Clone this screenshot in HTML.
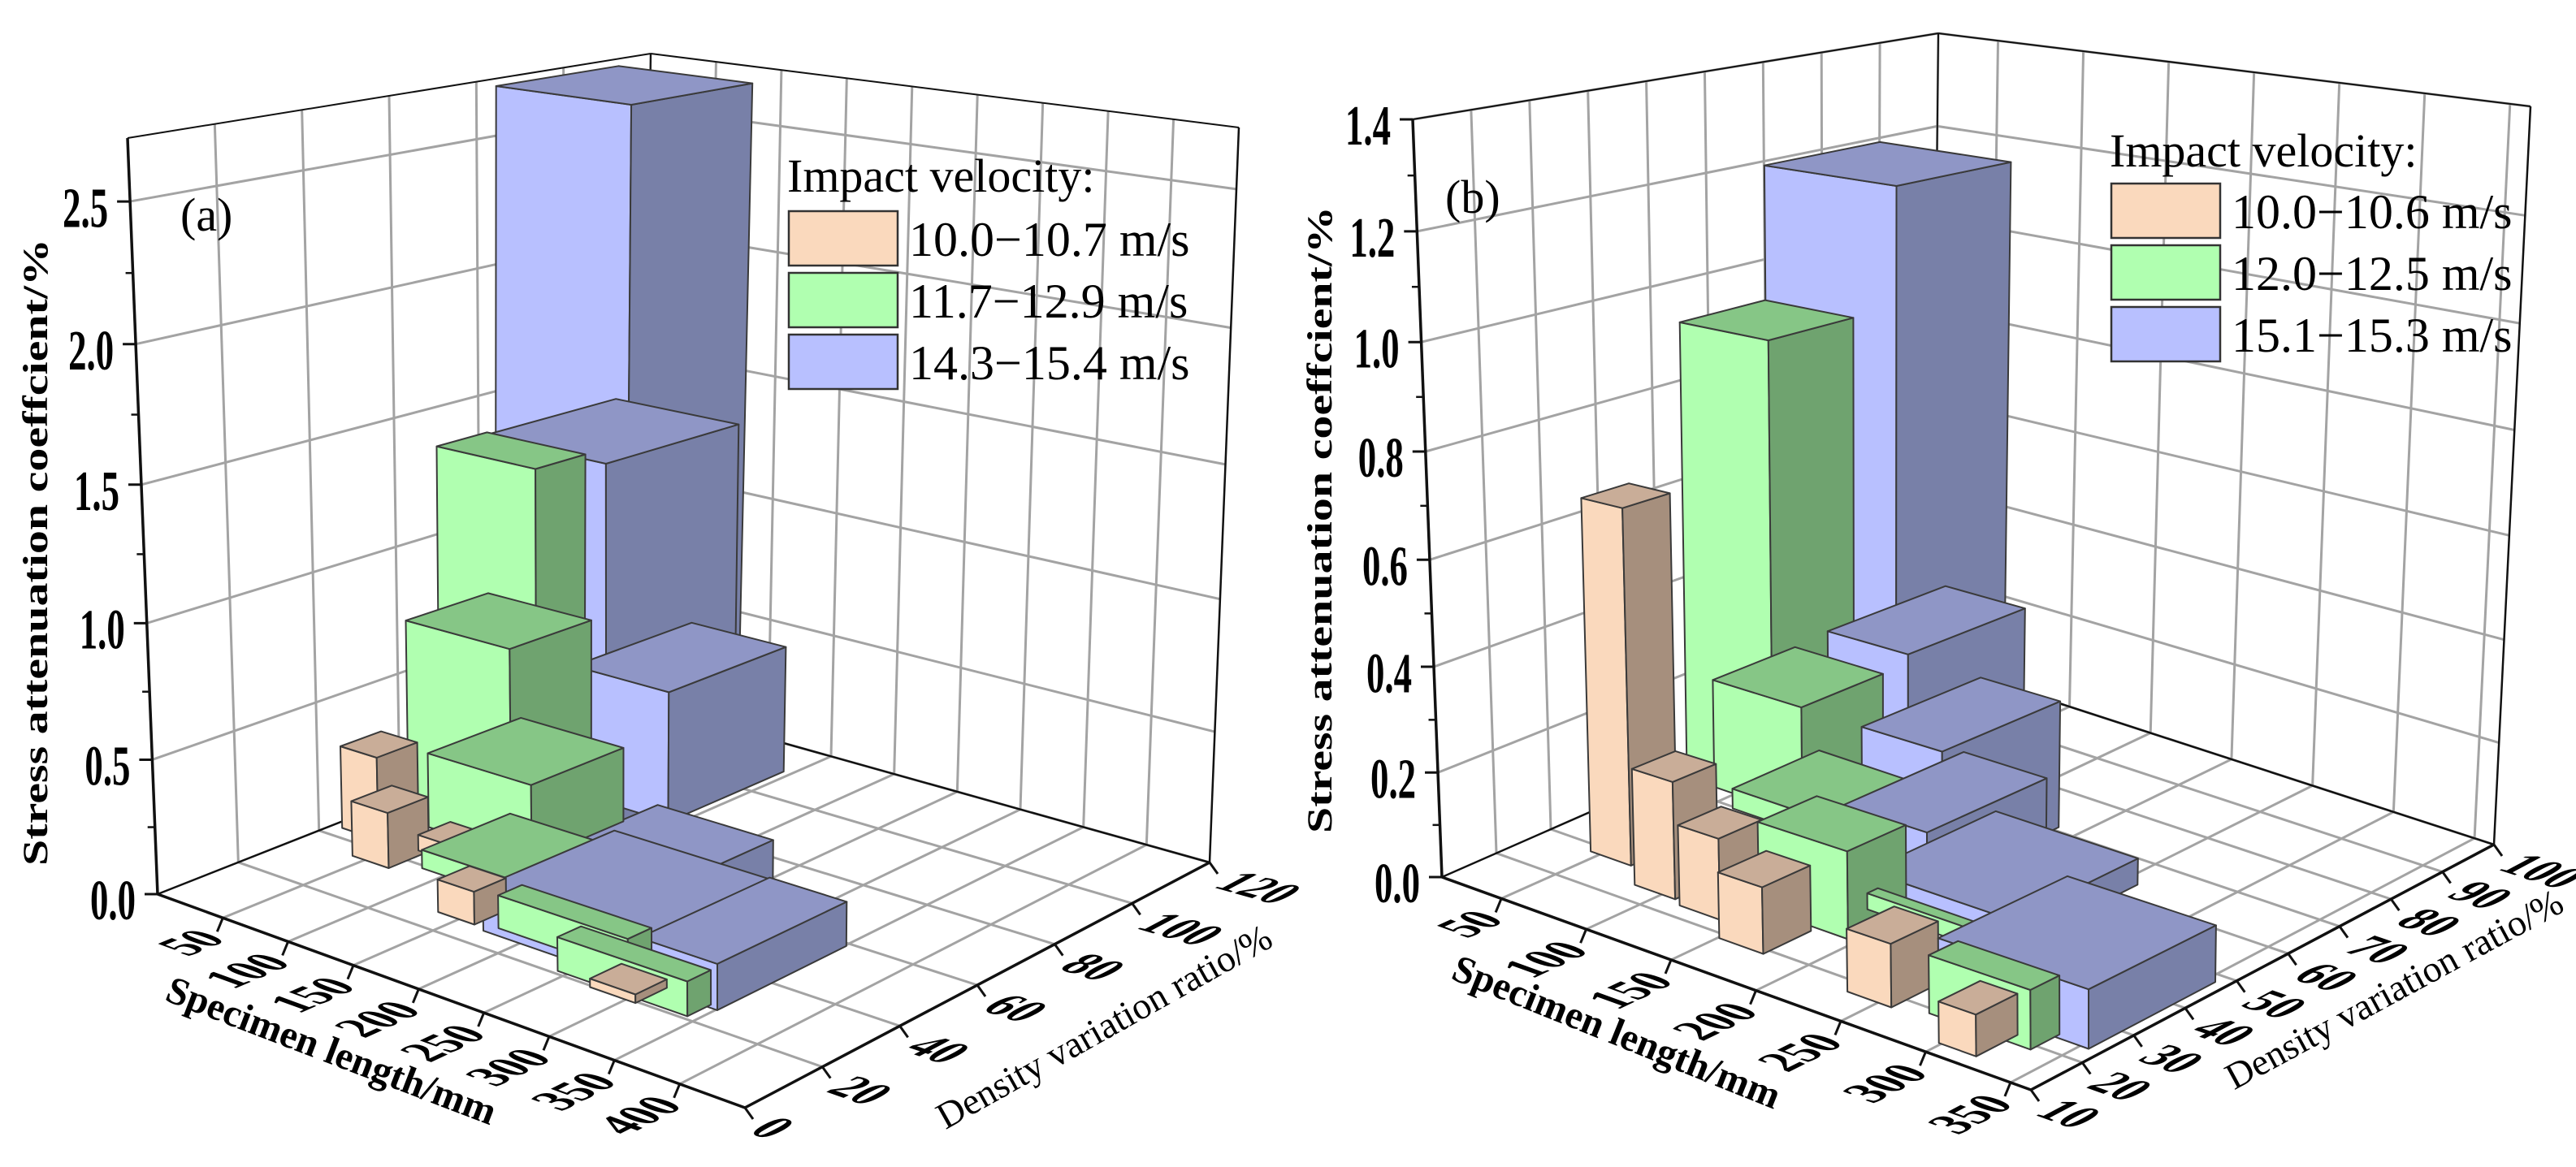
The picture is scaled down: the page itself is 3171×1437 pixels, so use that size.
<!DOCTYPE html>
<html><head><meta charset="utf-8"><title>Stress attenuation 3D bars</title>
<style>html,body{margin:0;padding:0;background:#fff;}svg{display:block;}
text{font-family:"Liberation Serif","DejaVu Serif",serif;fill:#000;}</style></head>
<body>
<svg id="chart" xmlns="http://www.w3.org/2000/svg" width="3171" height="1437" viewBox="0 0 3171 1437">
<rect x="0" y="0" width="3171" height="1437" fill="#fff"/>
<g id="panelA"></g>
<g id="panelB"></g>
</svg>
<script>
// ---------- data: panel (a) ----------
const aSeries  = [2,2,1,2,1,0,2,1,0,0,1,2,0,2,1,1,0];
const aLength  = [-13,76,9,107,50,21,215,83,54.6,77,124,232,148,321,226,293,290];
const aDensity = [118,88,85,95.5,69,48.5,54.5,65,40.3,48.5,50,42,30.5,42.5,31,24,23.5];
const aCoef    = [2.59,1.41,1.27,0.51,0.73,0.32,0.18,0.29,0.21,0.06,0.07,0.16,0.12,0.16,0.12,0.12,0.03];
const aSpanL   = [103,95,76,74,80,28,90,80,28,28,82,120,28,60,100,100,35];
const aSpanD   = [28,32,12,29,20,10,31,23,10,8,22,33,8,33,6,6,8];
const aLegend  = ["10.0\u221210.7 m/s","11.7\u221212.9 m/s","14.3\u221215.4 m/s"];
const aZTicks  = [0,0.5,1.0,1.5,2.0,2.5];
const aZLabels = ["0.0","0.5","1.0","1.5","2.0","2.5"];
const aLTicks  = [50,100,150,200,250,300,350,400];
const aDTicks  = [0,20,40,60,80,100,120];
// ---------- data: panel (b) ----------
const bSeries  = [2,1,2,0,1,2,1,0,2,0,2,1,0,1,0,2,1,0];
const bLength  = [60.5,31,114.3,56.7,64.1,164.1,87.7,96,179.3,126,215.5,168.9,163.8,214.2,244.9,310.5,305,309.6];
const bDensity = [78,65.5,68.9,32.4,60.65,60,57.6,28.05,52.3,27,51.95,34.4,23.3,38.2,21.6,35.8,21.6,17];
const bCoef    = [1.2,0.9,0.35,0.68,0.22,0.25,0.04,0.22,0.15,0.15,0.05,0.16,0.12,0.03,0.11,0.1,0.1,0.07];
const bSpanL   = [77,52,48,24,53,48,55,24,50,24,86,53,26,67,26,89,60,22];
const bSpanD   = [20,15,21.5,8.5,15,22,16,8,22.5,8,24,11,9,2,9,24.6,5.6,8];
const bLegend  = ["10.0\u221210.6 m/s","12.0\u221212.5 m/s","15.1\u221215.3 m/s"];
const bZTicks  = [0,0.2,0.4,0.6,0.8,1.0,1.2,1.4];
const bZLabels = ["0.0","0.2","0.4","0.6","0.8","1.0","1.2","1.4"];
const bLTicks  = [50,100,150,200,250,300,350];
const bDTicks  = [10,20,30,40,50,60,70,80,90,100];

const COLORS = [['#fad9bd','#c9ad98','#a68f7d'],['#b0ffb0','#86c686','#6fa36f'],['#b8c0ff','#8f96c6','#7880a8']];
const NS = 'http://www.w3.org/2000/svg';

function mk(tag, parent, attrs){
  const e = document.createElementNS(NS, tag);
  for (const k in attrs) e.setAttribute(k, attrs[k]);
  parent.appendChild(e);
  return e;
}
function makeProj(P){
  return function(L, D, z){
    const u=(L-P.Lmin)/(P.Lmax-P.Lmin), v=(D-P.Dmin)/(P.Dmax-P.Dmin);
    let w=z/P.zmax; w = w - 0.04*w*(1-w);
    const bl=(c,i)=>c[0][i]*(1-u)*(1-v)+c[1][i]*u*(1-v)+c[2][i]*u*v+c[3][i]*(1-u)*v;
    return [bl(P.F,0)*(1-w)+bl(P.T,0)*w, bl(P.F,1)*(1-w)+bl(P.T,1)*w];
  };
}
function pts(arr){ return arr.map(p=>p[0].toFixed(1)+','+p[1].toFixed(1)).join(' '); }
function unit(p,q){ const dx=q[0]-p[0], dy=q[1]-p[1], n=Math.hypot(dx,dy); return [dx/n,dy/n]; }

function drawPanel(g, P, d){
  const pr = makeProj(P);
  const grid = mk('g', g, {});
  
  
  const gl = (p1,p2)=>{ const l=mk('line',grid,{x1:p1[0],y1:p1[1],x2:p2[0],y2:p2[1],stroke:'#a3a3a3','stroke-width':3});
    
     };
  d.LTicks.forEach(L=>{ gl(pr(L,P.Dmin,0),pr(L,P.Dmax,0)); gl(pr(L,P.Dmax,0),pr(L,P.Dmax,P.zmax)); });
  d.DTicks.forEach(D=>{ gl(pr(P.Lmin,D,0),pr(P.Lmax,D,0)); gl(pr(P.Lmin,D,0),pr(P.Lmin,D,P.zmax)); });
  d.ZTicks.forEach(z=>{ if(z===0) return; gl(pr(P.Lmin,P.Dmin,z),pr(P.Lmin,P.Dmax,z)); gl(pr(P.Lmin,P.Dmax,z),pr(P.Lmax,P.Dmax,z)); });
  const frame = mk('g', g, {stroke:'#111', fill:'none'});
  
  
  const fl=(p1,p2,w,name)=>{ const l=mk('line',frame,{x1:p1[0],y1:p1[1],x2:p2[0],y2:p2[1],'stroke-width':w});
    
     };
  fl(pr(P.Lmin,P.Dmin,0),pr(P.Lmin,P.Dmax,0),2.5,'floor-back-left-edge');
  fl(pr(P.Lmin,P.Dmax,0),pr(P.Lmax,P.Dmax,0),2.5,'floor-back-right-edge');
  fl(pr(P.Lmin,P.Dmax,0),pr(P.Lmin,P.Dmax,P.zmax),2,'back-vertical-edge');
  fl(pr(P.Lmin,P.Dmin,P.zmax),pr(P.Lmin,P.Dmax,P.zmax),2,'top-left-edge');
  fl(pr(P.Lmin,P.Dmax,P.zmax),pr(P.Lmax,P.Dmax,P.zmax),2,'top-right-edge');
  fl(pr(P.Lmax,P.Dmax,0),pr(P.Lmax,P.Dmax,P.zmax),2.5,'right-vertical-edge');
  const bars = mk('g', g, {'stroke':'#3a3a3a','stroke-width':2,'stroke-linejoin':'round'});
  
  
  for (let i=0;i<d.coef.length;i++){
    const c=COLORS[d.series[i]];
    const L0=d.len[i]-d.spanL[i]/2, L1=d.len[i]+d.spanL[i]/2;
    const D0=d.den[i]-d.spanD[i]/2, D1=d.den[i]+d.spanD[i]/2, h=d.coef[i];
    const bg = mk('g', bars, {});
    
    
    mk('polygon', bg, {points:pts([pr(L0,D0,0),pr(L1,D0,0),pr(L1,D0,h),pr(L0,D0,h)]), fill:c[0]});
    mk('polygon', bg, {points:pts([pr(L1,D0,0),pr(L1,D1,0),pr(L1,D1,h),pr(L1,D0,h)]), fill:c[2]});
    mk('polygon', bg, {points:pts([pr(L0,D0,h),pr(L1,D0,h),pr(L1,D1,h),pr(L0,D1,h)]), fill:c[1]});
  }
  fl(pr(P.Lmin,P.Dmin,0),pr(P.Lmin,P.Dmin,P.zmax),3.5,'z-axis-line');
  fl(pr(P.Lmin,P.Dmin,0),pr(P.Lmax,P.Dmin,0),3.5,'length-axis-line');
  fl(pr(P.Lmax,P.Dmin,0),pr(P.Lmax,P.Dmax,0),3.5,'density-axis-line');
  const labels = mk('g', g, {});
  
  
  d.ZTicks.forEach((z,i)=>{
    const p=pr(P.Lmin,P.Dmin,z);
    fl(p,[p[0]-16,p[1]],3,'z-tick');
    const tx=p[0]-27, ty=p[1]+8;
    const t=mk('text',labels,{x:0,y:0,'text-anchor':'end','dominant-baseline':'central','font-size':70,'font-weight':'bold',
      transform:'translate('+tx+' '+ty+') scale(0.64 1)'});
    t.textContent=d.ZLabels[i];
    
    
    if (i<d.ZTicks.length-1){ const pm=pr(P.Lmin,P.Dmin,(z+d.ZTicks[i+1])/2); fl(pm,[pm[0]-9,pm[1]],2.5,'z-minor-tick'); }
  });
  d.LTicks.forEach(L=>{
    const p=pr(L,P.Dmin,0);
    const dd=unit(p,pr(L,P.Dmin+1,0)), ll=unit(p,pr(L+1,P.Dmin,0));
    fl(p,[p[0]-7,p[1]+17],3,'length-tick');
    const ex=p[0]-14, ey=p[1]+20;
    const t=mk('text',labels,{x:0,y:0,'text-anchor':'end','dominant-baseline':'central','font-size':54,'font-weight':'bold',
      transform:'matrix('+dd[0]+' '+dd[1]+' '+(ll[0]*1.2)+' '+(ll[1]*1.2)+' '+ex+' '+ey+')'});
    t.textContent=String(L);
    
    
  });
  d.DTicks.forEach(D=>{
    const p=pr(P.Lmax,D,0);
    const dd=unit(p,pr(P.Lmax,D+1,0)), ll=unit(p,pr(P.Lmax-1,D,0));
    fl(p,[p[0]+10,p[1]+14],3,'density-tick');
    const sx=p[0]+22, sy=p[1]+20;
    const t=mk('text',labels,{x:0,y:0,'text-anchor':'start','dominant-baseline':'central','font-size':54,'font-weight':'bold',
      transform:'matrix('+(-ll[0])+' '+(-ll[1])+' '+(-dd[0]*1.2)+' '+(-dd[1]*1.2)+' '+sx+' '+sy+')'});
    t.textContent=String(D);
    
    
  });
  const tz=mk('text',g,{x:0,y:0,'text-anchor':'middle','dominant-baseline':'central','font-size':58,'font-weight':'bold',
    transform:'translate('+d.zt[0]+' '+d.zt[1]+') scale(0.75 1) rotate(-90)'});
  tz.textContent='Stress attenuation coeffcient/%';
  
  
  const tl=mk('text',g,{x:d.lt[0],y:d.lt[1],'text-anchor':'middle','dominant-baseline':'central','font-size':48,'font-weight':'bold',transform:'rotate('+d.lt[2]+' '+d.lt[0]+' '+d.lt[1]+')'});
  tl.textContent='Specimen length/mm';
  
  
  const td=mk('text',g,{x:d.dt[0],y:d.dt[1],'text-anchor':'middle','dominant-baseline':'central','font-size':46,transform:'rotate('+d.dt[2]+' '+d.dt[0]+' '+d.dt[1]+')'});
  td.textContent='Density variation ratio/%';
  
  
  const pl=mk('text',g,{x:d.pl[0],y:d.pl[1],'font-size':58});
  pl.textContent=d.plabel;
  
  
  const lg=mk('g',g,{});
  
  
  const lt=mk('text',lg,{x:d.lg[0],y:d.lg[1],'font-size':58});
  lt.textContent='Impact velocity:';
  
  
  d.legend.forEach((s,i)=>{
    const y0=d.lg[2][i];
    const e=mk('g',lg,{});
    
    
    mk('rect',e,{x:d.lg[0]+2,y:y0,width:134,height:67,fill:COLORS[i][0],stroke:'#333','stroke-width':2.5});
    const t=mk('text',e,{x:d.lg[0]+150,y:y0+55,'font-size':60});
    t.textContent=s;
  });
}

drawPanel(document.getElementById('panelA'),
  {Lmin:0,Lmax:450,Dmin:0,Dmax:120,zmax:2.72,
   F:[[194,1101],[917,1364],[1489,1062],[790,866]], T:[[157,170],[915,290],[1525,157],[801,66]]},
  {series:aSeries,len:aLength,den:aDensity,coef:aCoef,spanL:aSpanL,spanD:aSpanD,
   ZTicks:aZTicks,ZLabels:aZLabels,LTicks:aLTicks,DTicks:aDTicks,legend:aLegend,
   zt:[44,680],lt:[408,1294,21],dt:[1359,1264,-29.3],pl:[222,284],plabel:'(a)',
   lg:[969,236,[260,336,412]]});
drawPanel(document.getElementById('panelB'),
  {Lmin:15,Lmax:362,Dmin:10,Dmax:100,zmax:1.4,
   F:[[1775,1080],[2500,1342],[3070,1040],[2378,815]], T:[[1739,147],[2493,244],[3115,131],[2386,41]]},
  {series:bSeries,len:bLength,den:bDensity,coef:bCoef,spanL:bSpanL,spanD:bSpanD,
   ZTicks:bZTicks,ZLabels:bZLabels,LTicks:bLTicks,DTicks:bDTicks,legend:bLegend,
   zt:[1625,640],lt:[1990,1271,22],dt:[2947,1218,-28.5],pl:[1779,262],plabel:'(b)',
   lg:[2597,205,[226,302,378]]});
</script>
</body></html>
